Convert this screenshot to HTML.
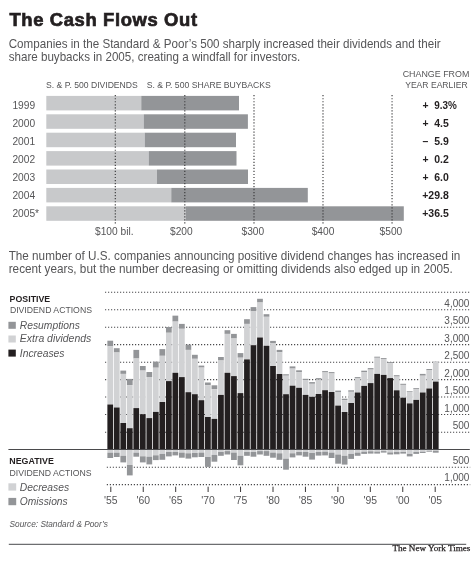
<!DOCTYPE html>
<html><head><meta charset="utf-8"><title>The Cash Flows Out</title>
<style>
html,body{margin:0;padding:0;background:#fff;}
body{width:475px;height:561px;overflow:hidden;}
svg{display:block;font-family:"Liberation Sans", sans-serif;will-change:transform;}
</style></head><body>
<svg width="475" height="561" viewBox="0 0 475 561">
<rect width="475" height="561" fill="#fff"/>
<rect x="46.3" y="95.90" width="94.95" height="14.5" fill="#c8c9cb"/>
<rect x="141.25" y="95.90" width="97.75" height="14.5" fill="#939598"/>
<rect x="46.3" y="114.30" width="97.45" height="14.5" fill="#c8c9cb"/>
<rect x="143.75" y="114.30" width="104.15" height="14.5" fill="#939598"/>
<rect x="46.3" y="132.70" width="98.45" height="14.5" fill="#c8c9cb"/>
<rect x="144.75" y="132.70" width="91.25" height="14.5" fill="#939598"/>
<rect x="46.3" y="151.10" width="102.45" height="14.5" fill="#c8c9cb"/>
<rect x="148.75" y="151.10" width="87.75" height="14.5" fill="#939598"/>
<rect x="46.3" y="169.50" width="110.70" height="14.5" fill="#c8c9cb"/>
<rect x="157" y="169.50" width="91.00" height="14.5" fill="#939598"/>
<rect x="46.3" y="187.90" width="124.95" height="14.5" fill="#c8c9cb"/>
<rect x="171.25" y="187.90" width="136.55" height="14.5" fill="#939598"/>
<rect x="46.3" y="206.30" width="139.45" height="14.5" fill="#c8c9cb"/>
<rect x="185.75" y="206.30" width="218.05" height="14.5" fill="#939598"/>
<line x1="115.3" y1="95.1" x2="115.3" y2="223.5" stroke="#3a3a3c" stroke-width="1.15" stroke-dasharray="1.2 1.83"/>
<line x1="184.8" y1="95.1" x2="184.8" y2="223.5" stroke="#3a3a3c" stroke-width="1.15" stroke-dasharray="1.2 1.83"/>
<line x1="254.0" y1="95.1" x2="254.0" y2="223.5" stroke="#3a3a3c" stroke-width="1.15" stroke-dasharray="1.2 1.83"/>
<line x1="323.0" y1="95.1" x2="323.0" y2="223.5" stroke="#3a3a3c" stroke-width="1.15" stroke-dasharray="1.2 1.83"/>
<line x1="392.05" y1="95.1" x2="392.05" y2="223.5" stroke="#3a3a3c" stroke-width="1.15" stroke-dasharray="1.2 1.83"/>
<text x="12.4" y="108.95" font-size="10.2" fill="#555557">1999</text>
<text x="12.4" y="127.03" font-size="10.2" fill="#555557">2000</text>
<text x="12.4" y="145.11" font-size="10.2" fill="#555557">2001</text>
<text x="12.4" y="163.19" font-size="10.2" fill="#555557">2002</text>
<text x="12.4" y="181.27" font-size="10.2" fill="#555557">2003</text>
<text x="12.4" y="199.35" font-size="10.2" fill="#555557">2004</text>
<text x="12.4" y="217.43" font-size="10.2" fill="#555557">2005*</text>
<text x="422.4" y="108.85" font-size="10.4" font-weight="bold" fill="#231f20">+</text>
<text x="434.20" y="108.85" font-size="10.4" font-weight="bold" textLength="22.60" lengthAdjust="spacingAndGlyphs" fill="#231f20">9.3%</text>
<text x="422.4" y="126.93" font-size="10.4" font-weight="bold" fill="#231f20">+</text>
<text x="434.20" y="126.93" font-size="10.4" font-weight="bold" textLength="14.60" lengthAdjust="spacingAndGlyphs" fill="#231f20">4.5</text>
<text x="422.4" y="145.01" font-size="10.4" font-weight="bold" fill="#231f20">–</text>
<text x="434.20" y="145.01" font-size="10.4" font-weight="bold" textLength="14.60" lengthAdjust="spacingAndGlyphs" fill="#231f20">5.9</text>
<text x="422.4" y="163.09" font-size="10.4" font-weight="bold" fill="#231f20">+</text>
<text x="434.20" y="163.09" font-size="10.4" font-weight="bold" textLength="14.60" lengthAdjust="spacingAndGlyphs" fill="#231f20">0.2</text>
<text x="422.4" y="181.17" font-size="10.4" font-weight="bold" fill="#231f20">+</text>
<text x="434.20" y="181.17" font-size="10.4" font-weight="bold" textLength="14.60" lengthAdjust="spacingAndGlyphs" fill="#231f20">6.0</text>
<text x="422.20" y="199.25" font-size="10.4" font-weight="bold" textLength="26.60" lengthAdjust="spacingAndGlyphs" fill="#231f20">+29.8</text>
<text x="422.20" y="217.33" font-size="10.4" font-weight="bold" textLength="26.60" lengthAdjust="spacingAndGlyphs" fill="#231f20">+36.5</text>
<text x="95.0" y="235.1" font-size="10.2" fill="#555557">$100 bil.</text>
<text x="170.0" y="235.1" font-size="10.2" fill="#555557">$200</text>
<text x="241.5" y="235.1" font-size="10.2" fill="#555557">$300</text>
<text x="311.7" y="235.1" font-size="10.2" fill="#555557">$400</text>
<text x="379.6" y="235.1" font-size="10.2" fill="#555557">$500</text>
<line x1="105.0" y1="292.3" x2="470.2" y2="292.3" stroke="#4a4a4c" stroke-width="1.1" stroke-dasharray="1.2 1.8"/>
<line x1="105.0" y1="309.7" x2="470.2" y2="309.7" stroke="#4a4a4c" stroke-width="1.1" stroke-dasharray="1.2 1.8"/>
<line x1="105.0" y1="327.2" x2="470.2" y2="327.2" stroke="#4a4a4c" stroke-width="1.1" stroke-dasharray="1.2 1.8"/>
<line x1="105.0" y1="344.6" x2="470.2" y2="344.6" stroke="#4a4a4c" stroke-width="1.1" stroke-dasharray="1.2 1.8"/>
<line x1="105.0" y1="362.2" x2="470.2" y2="362.2" stroke="#4a4a4c" stroke-width="1.1" stroke-dasharray="1.2 1.8"/>
<line x1="105.0" y1="379.6" x2="470.2" y2="379.6" stroke="#4a4a4c" stroke-width="1.1" stroke-dasharray="1.2 1.8"/>
<line x1="105.0" y1="397.0" x2="470.2" y2="397.0" stroke="#4a4a4c" stroke-width="1.1" stroke-dasharray="1.2 1.8"/>
<line x1="105.0" y1="414.5" x2="470.2" y2="414.5" stroke="#4a4a4c" stroke-width="1.1" stroke-dasharray="1.2 1.8"/>
<line x1="105.0" y1="432.2" x2="470.2" y2="432.2" stroke="#4a4a4c" stroke-width="1.1" stroke-dasharray="1.2 1.8"/>
<line x1="106.8" y1="467.2" x2="470.2" y2="467.2" stroke="#4a4a4c" stroke-width="1.1" stroke-dasharray="1.2 1.8"/>
<line x1="106.8" y1="484.6" x2="470.2" y2="484.6" stroke="#4a4a4c" stroke-width="1.1" stroke-dasharray="1.2 1.8"/>
<rect x="107.38" y="340.7" width="5.75" height="5.70" fill="#939598"/>
<rect x="107.38" y="346.4" width="5.75" height="58.10" fill="#d1d2d4"/>
<rect x="107.38" y="404.5" width="5.75" height="45.10" fill="#231f20"/>
<rect x="107.38" y="449.6" width="5.75" height="3.10" fill="#d1d2d4"/>
<rect x="107.38" y="452.7" width="5.75" height="5.30" fill="#939598"/>
<rect x="113.89" y="348.2" width="5.75" height="4.30" fill="#939598"/>
<rect x="113.89" y="352.5" width="5.75" height="55.00" fill="#d1d2d4"/>
<rect x="113.89" y="407.5" width="5.75" height="42.10" fill="#231f20"/>
<rect x="113.89" y="449.6" width="5.75" height="3.10" fill="#d1d2d4"/>
<rect x="113.89" y="452.7" width="5.75" height="4.30" fill="#939598"/>
<rect x="120.39" y="370.6" width="5.75" height="3.30" fill="#939598"/>
<rect x="120.39" y="373.9" width="5.75" height="49.10" fill="#d1d2d4"/>
<rect x="120.39" y="423.0" width="5.75" height="26.60" fill="#231f20"/>
<rect x="120.39" y="449.6" width="5.75" height="6.20" fill="#d1d2d4"/>
<rect x="120.39" y="455.8" width="5.75" height="6.60" fill="#939598"/>
<rect x="126.91" y="378.9" width="5.75" height="6.20" fill="#939598"/>
<rect x="126.91" y="385.1" width="5.75" height="43.10" fill="#d1d2d4"/>
<rect x="126.91" y="428.2" width="5.75" height="21.40" fill="#231f20"/>
<rect x="126.91" y="449.6" width="5.75" height="15.40" fill="#d1d2d4"/>
<rect x="126.91" y="465.0" width="5.75" height="10.40" fill="#939598"/>
<rect x="133.41" y="349.9" width="5.75" height="8.60" fill="#939598"/>
<rect x="133.41" y="358.5" width="5.75" height="49.60" fill="#d1d2d4"/>
<rect x="133.41" y="408.1" width="5.75" height="41.50" fill="#231f20"/>
<rect x="133.41" y="449.6" width="5.75" height="3.10" fill="#d1d2d4"/>
<rect x="133.41" y="452.7" width="5.75" height="4.00" fill="#939598"/>
<rect x="139.93" y="366.0" width="5.75" height="4.60" fill="#939598"/>
<rect x="139.93" y="370.6" width="5.75" height="43.60" fill="#d1d2d4"/>
<rect x="139.93" y="414.2" width="5.75" height="35.40" fill="#231f20"/>
<rect x="139.93" y="449.6" width="5.75" height="6.70" fill="#d1d2d4"/>
<rect x="139.93" y="456.3" width="5.75" height="6.10" fill="#939598"/>
<rect x="146.44" y="372.0" width="5.75" height="5.00" fill="#939598"/>
<rect x="146.44" y="377.0" width="5.75" height="41.10" fill="#d1d2d4"/>
<rect x="146.44" y="418.1" width="5.75" height="31.50" fill="#231f20"/>
<rect x="146.44" y="449.6" width="5.75" height="7.10" fill="#d1d2d4"/>
<rect x="146.44" y="456.7" width="5.75" height="7.70" fill="#939598"/>
<rect x="152.94" y="361.6" width="5.75" height="6.10" fill="#939598"/>
<rect x="152.94" y="367.7" width="5.75" height="44.20" fill="#d1d2d4"/>
<rect x="152.94" y="411.9" width="5.75" height="37.70" fill="#231f20"/>
<rect x="152.94" y="449.6" width="5.75" height="5.70" fill="#d1d2d4"/>
<rect x="152.94" y="455.3" width="5.75" height="4.80" fill="#939598"/>
<rect x="159.45" y="349.1" width="5.75" height="6.70" fill="#939598"/>
<rect x="159.45" y="355.8" width="5.75" height="46.20" fill="#d1d2d4"/>
<rect x="159.45" y="402.0" width="5.75" height="47.60" fill="#231f20"/>
<rect x="159.45" y="449.6" width="5.75" height="4.30" fill="#d1d2d4"/>
<rect x="159.45" y="453.9" width="5.75" height="5.90" fill="#939598"/>
<rect x="165.97" y="327.0" width="5.75" height="5.75" fill="#939598"/>
<rect x="165.97" y="332.75" width="5.75" height="48.35" fill="#d1d2d4"/>
<rect x="165.97" y="381.1" width="5.75" height="68.50" fill="#231f20"/>
<rect x="165.97" y="449.6" width="5.75" height="2.40" fill="#d1d2d4"/>
<rect x="165.97" y="452.0" width="5.75" height="4.40" fill="#939598"/>
<rect x="172.47" y="315.65" width="5.75" height="5.95" fill="#939598"/>
<rect x="172.47" y="321.6" width="5.75" height="51.20" fill="#d1d2d4"/>
<rect x="172.47" y="372.8" width="5.75" height="76.80" fill="#231f20"/>
<rect x="172.47" y="449.6" width="5.75" height="2.40" fill="#d1d2d4"/>
<rect x="172.47" y="452.0" width="5.75" height="3.40" fill="#939598"/>
<rect x="178.99" y="323.9" width="5.75" height="4.90" fill="#939598"/>
<rect x="178.99" y="328.8" width="5.75" height="48.30" fill="#d1d2d4"/>
<rect x="178.99" y="377.1" width="5.75" height="72.50" fill="#231f20"/>
<rect x="178.99" y="449.6" width="5.75" height="3.00" fill="#d1d2d4"/>
<rect x="178.99" y="452.6" width="5.75" height="5.10" fill="#939598"/>
<rect x="185.50" y="344.6" width="5.75" height="5.30" fill="#939598"/>
<rect x="185.50" y="349.9" width="5.75" height="42.30" fill="#d1d2d4"/>
<rect x="185.50" y="392.2" width="5.75" height="57.40" fill="#231f20"/>
<rect x="185.50" y="449.6" width="5.75" height="3.70" fill="#d1d2d4"/>
<rect x="185.50" y="453.3" width="5.75" height="5.30" fill="#939598"/>
<rect x="192.00" y="354.8" width="5.75" height="4.00" fill="#939598"/>
<rect x="192.00" y="358.8" width="5.75" height="35.40" fill="#d1d2d4"/>
<rect x="192.00" y="394.2" width="5.75" height="55.40" fill="#231f20"/>
<rect x="192.00" y="449.6" width="5.75" height="3.40" fill="#d1d2d4"/>
<rect x="192.00" y="453.0" width="5.75" height="4.30" fill="#939598"/>
<rect x="198.51" y="365.6" width="5.75" height="2.00" fill="#939598"/>
<rect x="198.51" y="367.6" width="5.75" height="32.60" fill="#d1d2d4"/>
<rect x="198.51" y="400.2" width="5.75" height="49.40" fill="#231f20"/>
<rect x="198.51" y="449.6" width="5.75" height="3.00" fill="#d1d2d4"/>
<rect x="198.51" y="452.6" width="5.75" height="4.40" fill="#939598"/>
<rect x="205.02" y="382.5" width="5.75" height="2.70" fill="#939598"/>
<rect x="205.02" y="385.2" width="5.75" height="31.80" fill="#d1d2d4"/>
<rect x="205.02" y="417.0" width="5.75" height="32.60" fill="#231f20"/>
<rect x="205.02" y="449.6" width="5.75" height="7.40" fill="#d1d2d4"/>
<rect x="205.02" y="457.0" width="5.75" height="9.90" fill="#939598"/>
<rect x="211.53" y="385.3" width="5.75" height="3.90" fill="#939598"/>
<rect x="211.53" y="389.2" width="5.75" height="29.70" fill="#d1d2d4"/>
<rect x="211.53" y="418.9" width="5.75" height="30.70" fill="#231f20"/>
<rect x="211.53" y="449.6" width="5.75" height="5.30" fill="#d1d2d4"/>
<rect x="211.53" y="454.9" width="5.75" height="6.80" fill="#939598"/>
<rect x="218.05" y="357.0" width="5.75" height="3.50" fill="#939598"/>
<rect x="218.05" y="360.5" width="5.75" height="34.40" fill="#d1d2d4"/>
<rect x="218.05" y="394.9" width="5.75" height="54.70" fill="#231f20"/>
<rect x="218.05" y="449.6" width="5.75" height="2.40" fill="#d1d2d4"/>
<rect x="218.05" y="452.0" width="5.75" height="3.80" fill="#939598"/>
<rect x="224.56" y="330.2" width="5.75" height="3.70" fill="#939598"/>
<rect x="224.56" y="333.9" width="5.75" height="38.90" fill="#d1d2d4"/>
<rect x="224.56" y="372.8" width="5.75" height="76.80" fill="#231f20"/>
<rect x="224.56" y="449.6" width="5.75" height="1.50" fill="#d1d2d4"/>
<rect x="224.56" y="451.1" width="5.75" height="3.40" fill="#939598"/>
<rect x="231.06" y="333.9" width="5.75" height="4.60" fill="#939598"/>
<rect x="231.06" y="338.5" width="5.75" height="37.60" fill="#d1d2d4"/>
<rect x="231.06" y="376.1" width="5.75" height="73.50" fill="#231f20"/>
<rect x="231.06" y="449.6" width="5.75" height="3.00" fill="#d1d2d4"/>
<rect x="231.06" y="452.6" width="5.75" height="7.40" fill="#939598"/>
<rect x="237.57" y="353.1" width="5.75" height="4.60" fill="#939598"/>
<rect x="237.57" y="357.7" width="5.75" height="35.40" fill="#d1d2d4"/>
<rect x="237.57" y="393.1" width="5.75" height="56.50" fill="#231f20"/>
<rect x="237.57" y="449.6" width="5.75" height="6.20" fill="#d1d2d4"/>
<rect x="237.57" y="455.8" width="5.75" height="9.50" fill="#939598"/>
<rect x="244.09" y="319.2" width="5.75" height="4.70" fill="#939598"/>
<rect x="244.09" y="323.9" width="5.75" height="35.50" fill="#d1d2d4"/>
<rect x="244.09" y="359.4" width="5.75" height="90.20" fill="#231f20"/>
<rect x="244.09" y="449.6" width="5.75" height="2.40" fill="#d1d2d4"/>
<rect x="244.09" y="452.0" width="5.75" height="3.80" fill="#939598"/>
<rect x="250.59" y="307.1" width="5.75" height="4.30" fill="#939598"/>
<rect x="250.59" y="311.4" width="5.75" height="33.80" fill="#d1d2d4"/>
<rect x="250.59" y="345.2" width="5.75" height="104.40" fill="#231f20"/>
<rect x="250.59" y="449.6" width="5.75" height="2.40" fill="#d1d2d4"/>
<rect x="250.59" y="452.0" width="5.75" height="4.70" fill="#939598"/>
<rect x="257.11" y="298.8" width="5.75" height="3.70" fill="#939598"/>
<rect x="257.11" y="302.5" width="5.75" height="35.00" fill="#d1d2d4"/>
<rect x="257.11" y="337.5" width="5.75" height="112.10" fill="#231f20"/>
<rect x="257.11" y="449.6" width="5.75" height="1.50" fill="#d1d2d4"/>
<rect x="257.11" y="451.1" width="5.75" height="3.40" fill="#939598"/>
<rect x="263.62" y="314.2" width="5.75" height="2.60" fill="#939598"/>
<rect x="263.62" y="316.8" width="5.75" height="29.00" fill="#d1d2d4"/>
<rect x="263.62" y="345.8" width="5.75" height="103.80" fill="#231f20"/>
<rect x="263.62" y="449.6" width="5.75" height="1.50" fill="#d1d2d4"/>
<rect x="263.62" y="451.1" width="5.75" height="4.70" fill="#939598"/>
<rect x="270.12" y="340.9" width="5.75" height="2.10" fill="#939598"/>
<rect x="270.12" y="343.0" width="5.75" height="23.00" fill="#d1d2d4"/>
<rect x="270.12" y="366.0" width="5.75" height="83.60" fill="#231f20"/>
<rect x="270.12" y="449.6" width="5.75" height="3.00" fill="#d1d2d4"/>
<rect x="270.12" y="452.6" width="5.75" height="5.10" fill="#939598"/>
<rect x="276.63" y="349.9" width="5.75" height="2.40" fill="#939598"/>
<rect x="276.63" y="352.3" width="5.75" height="21.70" fill="#d1d2d4"/>
<rect x="276.63" y="374.0" width="5.75" height="75.60" fill="#231f20"/>
<rect x="276.63" y="449.6" width="5.75" height="3.70" fill="#d1d2d4"/>
<rect x="276.63" y="453.3" width="5.75" height="6.50" fill="#939598"/>
<rect x="283.14" y="374.25" width="5.75" height="1.45" fill="#939598"/>
<rect x="283.14" y="375.7" width="5.75" height="18.50" fill="#d1d2d4"/>
<rect x="283.14" y="394.2" width="5.75" height="55.40" fill="#231f20"/>
<rect x="283.14" y="449.6" width="5.75" height="9.10" fill="#d1d2d4"/>
<rect x="283.14" y="458.7" width="5.75" height="11.00" fill="#939598"/>
<rect x="289.65" y="366.4" width="5.75" height="2.20" fill="#939598"/>
<rect x="289.65" y="368.6" width="5.75" height="17.10" fill="#d1d2d4"/>
<rect x="289.65" y="385.7" width="5.75" height="63.90" fill="#231f20"/>
<rect x="289.65" y="449.6" width="5.75" height="3.70" fill="#d1d2d4"/>
<rect x="289.65" y="453.3" width="5.75" height="4.10" fill="#939598"/>
<rect x="296.16" y="370.3" width="5.75" height="1.80" fill="#939598"/>
<rect x="296.16" y="372.1" width="5.75" height="15.70" fill="#d1d2d4"/>
<rect x="296.16" y="387.8" width="5.75" height="61.80" fill="#231f20"/>
<rect x="296.16" y="449.6" width="5.75" height="2.40" fill="#d1d2d4"/>
<rect x="296.16" y="452.0" width="5.75" height="3.40" fill="#939598"/>
<rect x="302.67" y="378.8" width="5.75" height="1.20" fill="#939598"/>
<rect x="302.67" y="380.0" width="5.75" height="14.90" fill="#d1d2d4"/>
<rect x="302.67" y="394.9" width="5.75" height="54.70" fill="#231f20"/>
<rect x="302.67" y="449.6" width="5.75" height="2.40" fill="#d1d2d4"/>
<rect x="302.67" y="452.0" width="5.75" height="4.70" fill="#939598"/>
<rect x="309.19" y="382.1" width="5.75" height="1.70" fill="#939598"/>
<rect x="309.19" y="383.8" width="5.75" height="13.00" fill="#d1d2d4"/>
<rect x="309.19" y="396.8" width="5.75" height="52.80" fill="#231f20"/>
<rect x="309.19" y="449.6" width="5.75" height="3.40" fill="#d1d2d4"/>
<rect x="309.19" y="453.0" width="5.75" height="6.60" fill="#939598"/>
<rect x="315.69" y="378.1" width="5.75" height="1.60" fill="#939598"/>
<rect x="315.69" y="379.7" width="5.75" height="14.30" fill="#d1d2d4"/>
<rect x="315.69" y="394.0" width="5.75" height="55.60" fill="#231f20"/>
<rect x="315.69" y="449.6" width="5.75" height="2.40" fill="#d1d2d4"/>
<rect x="315.69" y="452.0" width="5.75" height="3.60" fill="#939598"/>
<rect x="322.20" y="371.1" width="5.75" height="1.40" fill="#939598"/>
<rect x="322.20" y="372.5" width="5.75" height="17.70" fill="#d1d2d4"/>
<rect x="322.20" y="390.2" width="5.75" height="59.40" fill="#231f20"/>
<rect x="322.20" y="449.6" width="5.75" height="2.10" fill="#d1d2d4"/>
<rect x="322.20" y="451.7" width="5.75" height="3.70" fill="#939598"/>
<rect x="328.72" y="372.1" width="5.75" height="1.40" fill="#939598"/>
<rect x="328.72" y="373.5" width="5.75" height="18.50" fill="#d1d2d4"/>
<rect x="328.72" y="392.0" width="5.75" height="57.60" fill="#231f20"/>
<rect x="328.72" y="449.6" width="5.75" height="3.00" fill="#d1d2d4"/>
<rect x="328.72" y="452.6" width="5.75" height="5.40" fill="#939598"/>
<rect x="335.23" y="390.6" width="5.75" height="1.40" fill="#939598"/>
<rect x="335.23" y="392.0" width="5.75" height="13.60" fill="#d1d2d4"/>
<rect x="335.23" y="405.6" width="5.75" height="44.00" fill="#231f20"/>
<rect x="335.23" y="449.6" width="5.75" height="4.90" fill="#d1d2d4"/>
<rect x="335.23" y="454.5" width="5.75" height="9.20" fill="#939598"/>
<rect x="341.74" y="398.7" width="5.75" height="1.50" fill="#939598"/>
<rect x="341.74" y="400.2" width="5.75" height="11.80" fill="#d1d2d4"/>
<rect x="341.74" y="412.0" width="5.75" height="37.60" fill="#231f20"/>
<rect x="341.74" y="449.6" width="5.75" height="6.20" fill="#d1d2d4"/>
<rect x="341.74" y="455.8" width="5.75" height="8.80" fill="#939598"/>
<rect x="348.25" y="390.3" width="5.75" height="1.50" fill="#939598"/>
<rect x="348.25" y="391.8" width="5.75" height="11.20" fill="#d1d2d4"/>
<rect x="348.25" y="403.0" width="5.75" height="46.60" fill="#231f20"/>
<rect x="348.25" y="449.6" width="5.75" height="4.30" fill="#d1d2d4"/>
<rect x="348.25" y="453.9" width="5.75" height="5.00" fill="#939598"/>
<rect x="354.75" y="377.1" width="5.75" height="1.40" fill="#939598"/>
<rect x="354.75" y="378.5" width="5.75" height="14.00" fill="#d1d2d4"/>
<rect x="354.75" y="392.5" width="5.75" height="57.10" fill="#231f20"/>
<rect x="354.75" y="449.6" width="5.75" height="3.00" fill="#d1d2d4"/>
<rect x="354.75" y="452.6" width="5.75" height="3.20" fill="#939598"/>
<rect x="361.26" y="370.7" width="5.75" height="1.70" fill="#939598"/>
<rect x="361.26" y="372.4" width="5.75" height="13.50" fill="#d1d2d4"/>
<rect x="361.26" y="385.9" width="5.75" height="63.70" fill="#231f20"/>
<rect x="361.26" y="449.6" width="5.75" height="2.10" fill="#d1d2d4"/>
<rect x="361.26" y="451.7" width="5.75" height="2.20" fill="#939598"/>
<rect x="367.77" y="368.1" width="5.75" height="1.50" fill="#939598"/>
<rect x="367.77" y="369.6" width="5.75" height="13.50" fill="#d1d2d4"/>
<rect x="367.77" y="383.1" width="5.75" height="66.50" fill="#231f20"/>
<rect x="367.77" y="449.6" width="5.75" height="1.70" fill="#d1d2d4"/>
<rect x="367.77" y="451.3" width="5.75" height="2.30" fill="#939598"/>
<rect x="374.28" y="356.7" width="5.75" height="1.10" fill="#939598"/>
<rect x="374.28" y="357.8" width="5.75" height="16.10" fill="#d1d2d4"/>
<rect x="374.28" y="373.9" width="5.75" height="75.70" fill="#231f20"/>
<rect x="374.28" y="449.6" width="5.75" height="2.00" fill="#d1d2d4"/>
<rect x="374.28" y="451.6" width="5.75" height="2.00" fill="#939598"/>
<rect x="380.80" y="358.1" width="5.75" height="0.90" fill="#939598"/>
<rect x="380.80" y="359.0" width="5.75" height="15.90" fill="#d1d2d4"/>
<rect x="380.80" y="374.9" width="5.75" height="74.70" fill="#231f20"/>
<rect x="380.80" y="449.6" width="5.75" height="1.50" fill="#d1d2d4"/>
<rect x="380.80" y="451.1" width="5.75" height="1.50" fill="#939598"/>
<rect x="387.31" y="362.1" width="5.75" height="1.00" fill="#939598"/>
<rect x="387.31" y="363.1" width="5.75" height="15.00" fill="#d1d2d4"/>
<rect x="387.31" y="378.1" width="5.75" height="71.50" fill="#231f20"/>
<rect x="387.31" y="449.6" width="5.75" height="2.80" fill="#d1d2d4"/>
<rect x="387.31" y="452.4" width="5.75" height="2.10" fill="#939598"/>
<rect x="393.81" y="375.2" width="5.75" height="1.40" fill="#939598"/>
<rect x="393.81" y="376.6" width="5.75" height="13.70" fill="#d1d2d4"/>
<rect x="393.81" y="390.3" width="5.75" height="59.30" fill="#231f20"/>
<rect x="393.81" y="449.6" width="5.75" height="2.40" fill="#d1d2d4"/>
<rect x="393.81" y="452.0" width="5.75" height="2.30" fill="#939598"/>
<rect x="400.32" y="383.8" width="5.75" height="1.10" fill="#939598"/>
<rect x="400.32" y="384.9" width="5.75" height="12.80" fill="#d1d2d4"/>
<rect x="400.32" y="397.7" width="5.75" height="51.90" fill="#231f20"/>
<rect x="400.32" y="449.6" width="5.75" height="2.40" fill="#d1d2d4"/>
<rect x="400.32" y="452.0" width="5.75" height="1.60" fill="#939598"/>
<rect x="406.83" y="391.0" width="5.75" height="0.80" fill="#939598"/>
<rect x="406.83" y="391.8" width="5.75" height="11.60" fill="#d1d2d4"/>
<rect x="406.83" y="403.4" width="5.75" height="46.20" fill="#231f20"/>
<rect x="406.83" y="449.6" width="5.75" height="4.30" fill="#d1d2d4"/>
<rect x="406.83" y="453.9" width="5.75" height="2.50" fill="#939598"/>
<rect x="413.34" y="388.0" width="5.75" height="0.90" fill="#939598"/>
<rect x="413.34" y="388.9" width="5.75" height="11.00" fill="#d1d2d4"/>
<rect x="413.34" y="399.9" width="5.75" height="49.70" fill="#231f20"/>
<rect x="413.34" y="449.6" width="5.75" height="2.40" fill="#d1d2d4"/>
<rect x="413.34" y="452.0" width="5.75" height="1.90" fill="#939598"/>
<rect x="419.86" y="373.9" width="5.75" height="1.80" fill="#939598"/>
<rect x="419.86" y="375.7" width="5.75" height="16.80" fill="#d1d2d4"/>
<rect x="419.86" y="392.5" width="5.75" height="57.10" fill="#231f20"/>
<rect x="419.86" y="449.6" width="5.75" height="2.10" fill="#d1d2d4"/>
<rect x="419.86" y="451.7" width="5.75" height="1.30" fill="#939598"/>
<rect x="426.37" y="369.0" width="5.75" height="1.40" fill="#939598"/>
<rect x="426.37" y="370.4" width="5.75" height="18.10" fill="#d1d2d4"/>
<rect x="426.37" y="388.5" width="5.75" height="61.10" fill="#231f20"/>
<rect x="426.37" y="449.6" width="5.75" height="1.20" fill="#d1d2d4"/>
<rect x="426.37" y="450.8" width="5.75" height="0.90" fill="#939598"/>
<rect x="432.88" y="361.4" width="5.75" height="0.30" fill="#939598"/>
<rect x="432.88" y="361.7" width="5.75" height="19.90" fill="#d1d2d4"/>
<rect x="432.88" y="381.6" width="5.75" height="68.00" fill="#231f20"/>
<rect x="432.88" y="449.6" width="5.75" height="1.20" fill="#d1d2d4"/>
<rect x="432.88" y="450.8" width="5.75" height="1.90" fill="#939598"/>
<line x1="8.4" y1="449.5" x2="469.8" y2="449.5" stroke="#4a4a4c" stroke-width="1.15"/>
<text x="469.4" y="306.90" font-size="10" text-anchor="end" fill="#555557">4,000</text>
<text x="469.4" y="324.40" font-size="10" text-anchor="end" fill="#555557">3,500</text>
<text x="469.4" y="341.80" font-size="10" text-anchor="end" fill="#555557">3,000</text>
<text x="469.4" y="359.40" font-size="10" text-anchor="end" fill="#555557">2,500</text>
<text x="469.4" y="376.80" font-size="10" text-anchor="end" fill="#555557">2,000</text>
<text x="469.4" y="394.20" font-size="10" text-anchor="end" fill="#555557">1,500</text>
<text x="469.4" y="411.70" font-size="10" text-anchor="end" fill="#555557">1,000</text>
<text x="469.4" y="429.40" font-size="10" text-anchor="end" fill="#555557">500</text>
<text x="469.4" y="463.8" font-size="10" text-anchor="end" fill="#555557">500</text>
<text x="469.4" y="481.4" font-size="10" text-anchor="end" fill="#555557">1,000</text>
<line x1="110.80" y1="486.7" x2="110.80" y2="492" stroke="#231f20" stroke-width="0.9"/>
<text x="110.80" y="504.4" font-size="10.4" text-anchor="middle" fill="#555557">'55</text>
<line x1="143.24" y1="486.7" x2="143.24" y2="492" stroke="#231f20" stroke-width="0.9"/>
<text x="143.24" y="504.4" font-size="10.4" text-anchor="middle" fill="#555557">'60</text>
<line x1="175.68" y1="486.7" x2="175.68" y2="492" stroke="#231f20" stroke-width="0.9"/>
<text x="175.68" y="504.4" font-size="10.4" text-anchor="middle" fill="#555557">'65</text>
<line x1="208.12" y1="486.7" x2="208.12" y2="492" stroke="#231f20" stroke-width="0.9"/>
<text x="208.12" y="504.4" font-size="10.4" text-anchor="middle" fill="#555557">'70</text>
<line x1="240.56" y1="486.7" x2="240.56" y2="492" stroke="#231f20" stroke-width="0.9"/>
<text x="240.56" y="504.4" font-size="10.4" text-anchor="middle" fill="#555557">'75</text>
<line x1="273.00" y1="486.7" x2="273.00" y2="492" stroke="#231f20" stroke-width="0.9"/>
<text x="273.00" y="504.4" font-size="10.4" text-anchor="middle" fill="#555557">'80</text>
<line x1="305.44" y1="486.7" x2="305.44" y2="492" stroke="#231f20" stroke-width="0.9"/>
<text x="305.44" y="504.4" font-size="10.4" text-anchor="middle" fill="#555557">'85</text>
<line x1="337.88" y1="486.7" x2="337.88" y2="492" stroke="#231f20" stroke-width="0.9"/>
<text x="337.88" y="504.4" font-size="10.4" text-anchor="middle" fill="#555557">'90</text>
<line x1="370.32" y1="486.7" x2="370.32" y2="492" stroke="#231f20" stroke-width="0.9"/>
<text x="370.32" y="504.4" font-size="10.4" text-anchor="middle" fill="#555557">'95</text>
<line x1="402.76" y1="486.7" x2="402.76" y2="492" stroke="#231f20" stroke-width="0.9"/>
<text x="402.76" y="504.4" font-size="10.4" text-anchor="middle" fill="#555557">'00</text>
<line x1="435.20" y1="486.7" x2="435.20" y2="492" stroke="#231f20" stroke-width="0.9"/>
<text x="435.20" y="504.4" font-size="10.4" text-anchor="middle" fill="#555557">'05</text>
<text x="9.6" y="301.5" font-size="9" font-weight="bold" textLength="40.6" lengthAdjust="spacingAndGlyphs" fill="#231f20">POSITIVE</text>
<text x="9.9" y="313" font-size="8.7" fill="#555557">DIVIDEND ACTIONS</text>
<rect x="8.4" y="321.8" width="7.4" height="7" fill="#939598"/>
<text x="19.8" y="328.70" font-size="10" font-style="italic" textLength="60.10" lengthAdjust="spacingAndGlyphs" fill="#555557">Resumptions</text>
<rect x="8.4" y="335.5" width="7.4" height="7" fill="#d1d2d4"/>
<text x="19.8" y="342.40" font-size="10" font-style="italic" textLength="71.50" lengthAdjust="spacingAndGlyphs" fill="#555557">Extra dividends</text>
<rect x="8.4" y="349.6" width="7.4" height="7" fill="#231f20"/>
<text x="19.8" y="356.50" font-size="10" font-style="italic" textLength="44.70" lengthAdjust="spacingAndGlyphs" fill="#555557">Increases</text>
<text x="9.3" y="464.1" font-size="9" font-weight="bold" textLength="44.6" lengthAdjust="spacingAndGlyphs" fill="#231f20">NEGATIVE</text>
<text x="9.5" y="475.8" font-size="8.7" fill="#555557">DIVIDEND ACTIONS</text>
<rect x="8.4" y="483.3" width="7.8" height="7.3" fill="#d1d2d4"/>
<text x="19.8" y="490.50" font-size="10" font-style="italic" textLength="49.30" lengthAdjust="spacingAndGlyphs" fill="#555557">Decreases</text>
<rect x="8.4" y="497.9" width="7.8" height="7.3" fill="#939598"/>
<text x="19.8" y="505.10" font-size="10" font-style="italic" textLength="47.90" lengthAdjust="spacingAndGlyphs" fill="#555557">Omissions</text>
<text x="9.5" y="526.7" font-size="8.3" font-style="italic" fill="#555557">Source: Standard &amp; Poor’s</text>
<line x1="8.8" y1="544.4" x2="466.2" y2="544.4" stroke="#6d6e70" stroke-width="1.2"/>
<text x="392.4" y="551.0" font-size="8.7" textLength="78" lengthAdjust="spacingAndGlyphs" fill="#231f20" stroke="#231f20" stroke-width="0.25" style="font-family:'Liberation Serif',serif">The New York Times</text>
<text x="9.4" y="26" font-size="18.4" font-weight="bold" textLength="187.6" lengthAdjust="spacing" fill="#231f20" stroke="#231f20" stroke-width="0.7">The Cash Flows Out</text>
<text x="8.70" y="47.8" font-size="12.2" textLength="431.90" lengthAdjust="spacingAndGlyphs" fill="#555557" >Companies in the Standard &amp; Poor’s 500 sharply increased their dividends and their</text>
<text x="8.70" y="61.2" font-size="12.2" textLength="291.60" lengthAdjust="spacingAndGlyphs" fill="#555557" >share buybacks in 2005, creating a windfall for investors.</text>
<text x="46.10" y="88.1" font-size="8.8" textLength="91.70" lengthAdjust="spacingAndGlyphs" fill="#555557" >S. &amp; P. 500 DIVIDENDS</text>
<text x="146.70" y="88.1" font-size="8.8" textLength="124.20" lengthAdjust="spacingAndGlyphs" fill="#555557" >S. &amp; P. 500 SHARE BUYBACKS</text>
<text x="402.70" y="76.6" font-size="9.3" textLength="66.60" lengthAdjust="spacingAndGlyphs" fill="#555557" >CHANGE FROM</text>
<text x="405.20" y="87.9" font-size="9.3" textLength="62.40" lengthAdjust="spacingAndGlyphs" fill="#555557" >YEAR EARLIER</text>
<text x="8.70" y="259.6" font-size="12.2" textLength="451.60" lengthAdjust="spacingAndGlyphs" fill="#555557" >The number of U.S. companies announcing positive dividend changes has increased in</text>
<text x="8.70" y="273.3" font-size="12.2" textLength="444.10" lengthAdjust="spacingAndGlyphs" fill="#555557" >recent years, but the number decreasing or omitting dividends also edged up in 2005.</text>
</svg>
</body></html>
